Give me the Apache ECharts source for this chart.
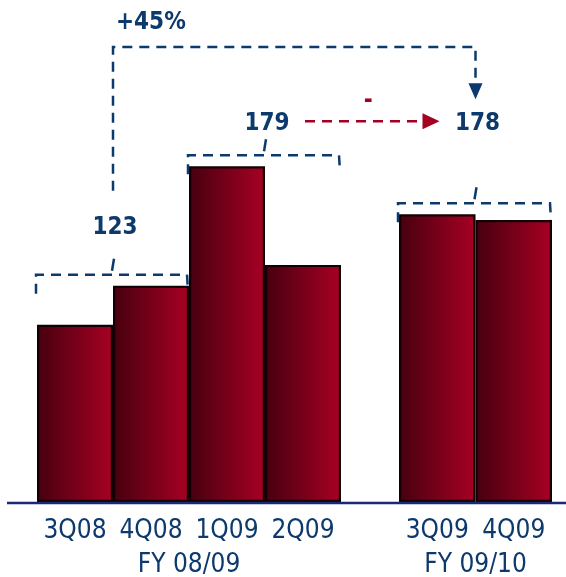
<!DOCTYPE html>
<html>
<head>
<meta charset="utf-8">
<script src="https://cdn.jsdelivr.net/npm/echarts@6/dist/echarts.min.js"></script>
<style>
  html, body { margin: 0; padding: 0; background: #ffffff; }
  #chart { width: 566px; height: 577px; }
</style>
</head>
<body>
<div id="chart"></div>
<script>
// Quarterly values, fiscal year 08/09
const fy0809Quarters = ['3Q08', '4Q08', '1Q09', '2Q09'];
const fy0809Values = [55.4, 67.6, 104.9, 74.1];
// Quarterly values, fiscal year 09/10
const fy0910Quarters = ['3Q09', '4Q09'];
const fy0910Values = [89.9, 88.1];
// Fiscal year captions under each group
const fiscalYears = ['FY 08/09', 'FY 09/10'];
// Half-year pairs summed in brackets: [grid, first quarter, second quarter]
const halfYearPairs = [[0, 0, 1], [0, 2, 3], [1, 0, 1]];

const NAVY = '#0d3a6c';
const RED = '#a30022';
const FONT = '"DejaVu Sans Condensed", "DejaVu Sans", sans-serif';

const chart = echarts.init(document.getElementById('chart'), null, { renderer: 'canvas' });

const barStyle = {
  color: new echarts.graphic.LinearGradient(0, 0, 1, 0, [
    { offset: 0, color: '#46000f' },
    { offset: 1, color: '#a80024' }
  ]),
  borderColor: '#120004',
  borderWidth: 2.2
};

function makeXAxis(gi, data) {
  return {
    type: 'category', gridIndex: gi, data: data,
    axisLine: { show: false }, axisTick: { show: false },
    axisLabel: { color: NAVY, fontSize: 26, fontFamily: FONT, margin: 16, interval: 0 }
  };
}
function makeYAxis(gi) {
  return { type: 'value', gridIndex: gi, min: 0, max: 150, show: false };
}

chart.setOption({
  animation: false,
  grid: [
    { left: 37, width: 304, top: 22, bottom: 75 },
    { left: 399, width: 153, top: 22, bottom: 75 }
  ],
  xAxis: [makeXAxis(0, fy0809Quarters), makeXAxis(1, fy0910Quarters)],
  yAxis: [makeYAxis(0), makeYAxis(1)],
  series: [
    { type: 'bar', xAxisIndex: 0, yAxisIndex: 0, data: fy0809Values, barWidth: '100%', itemStyle: barStyle },
    { type: 'bar', xAxisIndex: 1, yAxisIndex: 1, data: fy0910Values, barWidth: '100%', itemStyle: barStyle }
  ]
});

// ---- annotations placed from the bar geometry ----
const groupValues = [fy0809Values, fy0910Values];
const groupCats = [fy0809Quarters, fy0910Quarters];
function px(gi, idx, val) { return chart.convertToPixel({ gridIndex: gi }, [idx, val]); }
const band = [0, 1].map(gi => px(gi, 1, 0)[0] - px(gi, 0, 0)[0]);

const dashed = { stroke: NAVY, lineWidth: 2.5, lineDash: [10, 7], fill: null };
const BOLD = 'bold 24px ' + FONT;
const els = [];

// baseline across the full width
const baseY = px(0, 0, 0)[1];
els.push({ type: 'line', z: 100, shape: { x1: 7, y1: baseY + 1, x2: 566, y2: baseY + 1 },
  style: { stroke: '#1b2878', lineWidth: 2.5 } });

// fiscal-year captions centred under each group
[0, 1].forEach(gi => {
  const n = groupCats[gi].length;
  const cx = (px(gi, 0, 0)[0] + px(gi, n - 1, 0)[0]) / 2;
  els.push({ type: 'text', z: 100, style: { text: fiscalYears[gi], x: cx, y: baseY + 63,
    fill: NAVY, font: '26px ' + FONT, align: 'center', verticalAlign: 'middle' } });
});

// half-year brackets with their totals
const pairLift = [47, 32];
const pairInfo = [];
halfYearPairs.forEach((p, k) => {
  const [gi, a, b] = p;
  const vals = groupValues[gi];
  const ca = px(gi, a, 0)[0], cb = px(gi, b, 0)[0];
  const left = ca - band[gi] / 2 - 1;
  const right = cb + band[gi] / 2 - 2;
  const mid = (ca + cb) / 2;
  const yTop = px(gi, a, Math.max(vals[a], vals[b]))[1] - 11;
  const sum = vals[a] + vals[b];
  const labelY = k < pairLift.length ? yTop - pairLift[k] : pairInfo[k - 1].labelY;
  pairInfo.push({ x: mid + 2, labelY: labelY, sum: sum });

  els.push({ type: 'polyline', z: 100,
    shape: { points: [[left, yTop + 19], [left, yTop], [right, yTop], [right + 1, yTop + 16]] },
    style: dashed });
  els.push({ type: 'line', z: 100, shape: { x1: mid - 1, y1: yTop - 4, x2: mid + 1, y2: yTop - 16 },
    style: { stroke: NAVY, lineWidth: 2.5 } });
  els.push({ type: 'text', z: 100, style: { text: String(Math.round(sum)), x: mid + 2, y: labelY,
    fill: NAVY, font: BOLD, align: 'center', verticalAlign: 'middle' } });
});

// growth arrow: first half-year total to the latest one
const first = pairInfo[0], last = pairInfo[2], prev = pairInfo[1];
const growth = Math.round((last.sum - first.sum) / first.sum * 100);
const topY = 47;
const lx = first.x - 2, rx = last.x - 2;
const tipY = last.labelY - 24;
els.push({ type: 'polyline', z: 100,
  shape: { points: [[lx, first.labelY - 37], [lx, topY], [rx, topY], [rx, tipY - 14]] },
  style: dashed });
els.push({ type: 'polygon', z: 100,
  shape: { points: [[rx - 7, tipY - 16], [rx + 7, tipY - 16], [rx, tipY]] },
  style: { fill: NAVY } });
els.push({ type: 'text', z: 100, style: { text: (growth >= 0 ? '+' : '') + growth + '%', x: lx + 3, y: topY - 24,
  fill: NAVY, font: BOLD, align: 'left', verticalAlign: 'middle' } });

// flat comparison arrow between consecutive half-years
const ay = prev.labelY - 2;
const ax1 = prev.x + 38, ax2 = last.x - 38;
els.push({ type: 'line', z: 100, shape: { x1: ax1, y1: ay, x2: ax2 - 15, y2: ay },
  style: { stroke: RED, lineWidth: 2.5, lineDash: [10, 7] } });
els.push({ type: 'polygon', z: 100,
  shape: { points: [[ax2 - 17, ay - 8], [ax2 - 17, ay + 8], [ax2, ay]] },
  style: { fill: RED } });
els.push({ type: 'text', z: 100, style: { text: '-', x: (ax1 + ax2) / 2 - 4, y: ay - 21,
  fill: RED, font: BOLD, align: 'center', verticalAlign: 'middle' } });

chart.setOption({ graphic: { elements: els } });
</script>
</body>
</html>
